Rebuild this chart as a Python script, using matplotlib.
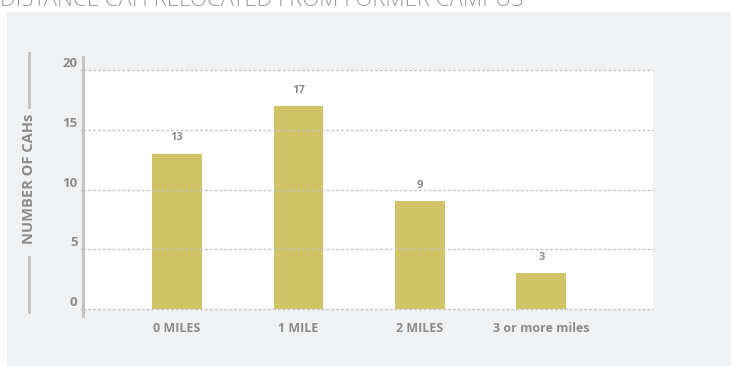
import matplotlib.pyplot as plt
from matplotlib.patches import Rectangle
from matplotlib.lines import Line2D

categories = ["0 MILES", "1 MILE", "2 MILES", "3 or more miles"]
counts = [13, 17, 9, 3]
yticks = [0, 5, 10, 15, 20]

W, H = 731, 366
grey_txt = "#8c8c8c"
bar_col = "#d0c466"
bg = "#f0f1f3"

plt.rcParams['font.family'] = ['Open Sans', 'DejaVu Sans']

fig = plt.figure(figsize=(W / 100, H / 100), dpi=100)
fig.patch.set_facecolor("white")

# grey panel behind the chart
fig.patches.append(Rectangle((7 / W, 0), 1 - 7 / W, 1 - 12 / H,
                             transform=fig.transFigure, color=bg, zorder=-5))

# title, cut off by the top edge
fig.text(0.0, 1 - 6 / H, "DISTANCE CAH RELOCATED FROM FORMER CAMPUS",
         fontsize=16, color="#9a9a9a", fontweight="light", va="baseline", ha="left")

ax = fig.add_axes([83 / W, 1 - 309 / H, (653 - 83) / W, (309 - 70) / H])
ax.set_facecolor("white")

x = list(range(len(categories)))
bars = ax.bar(x, counts, width=0.41, color=bar_col, zorder=1)
for xi, v in zip(x, counts):
    ax.text(xi, v + 0.85, str(v), ha="center", va="bottom", fontsize=8,
            fontweight="bold", color=grey_txt)

ax.set_xlim(-0.775, 3.92)
ax.set_ylim(0, 20)
ax.set_yticks(yticks)
ax.set_yticklabels([str(t) for t in yticks])
for t in yticks:
    ax.axhline(t, color="#c4c4c4", lw=1, ls=(0, (2, 1.5)), zorder=2, clip_on=False)

ax.set_xticks(x)
ax.set_xticklabels(categories)
ax.tick_params(axis="x", length=0, pad=9, labelsize=9, labelcolor=grey_txt)
ax.tick_params(axis="y", length=2, width=1, color="#c4c4c4", pad=2,
               labelsize=9.5, labelcolor=grey_txt)
for lab in ax.get_xticklabels() + ax.get_yticklabels():
    lab.set_fontweight("bold")
for lab in ax.get_yticklabels():
    lab.set_verticalalignment("bottom")

for s in ax.spines.values():
    s.set_visible(False)

# left axis line, a bit longer than the plot
fig.add_artist(Line2D([83 / W, 83 / W], [1 - 316 / H, 1 - 57 / H],
                      color="#c0c0c0", lw=2, transform=fig.transFigure))

# y label with lines above and below
fig.text(29 / W, 1 - 179 / H, "NUMBER OF CAHs", rotation=90, ha="center",
         va="center", fontsize=10.5, fontweight="bold", color=grey_txt)
fig.add_artist(Line2D([29 / W, 29 / W], [1 - 107 / H, 1 - 53 / H],
                      color="#c0c0c0", lw=2, transform=fig.transFigure))
fig.add_artist(Line2D([29 / W, 29 / W], [1 - 312 / H, 1 - 257 / H],
                      color="#c0c0c0", lw=2, transform=fig.transFigure))

fig.savefig("out.png", dpi=100, facecolor=fig.get_facecolor())
